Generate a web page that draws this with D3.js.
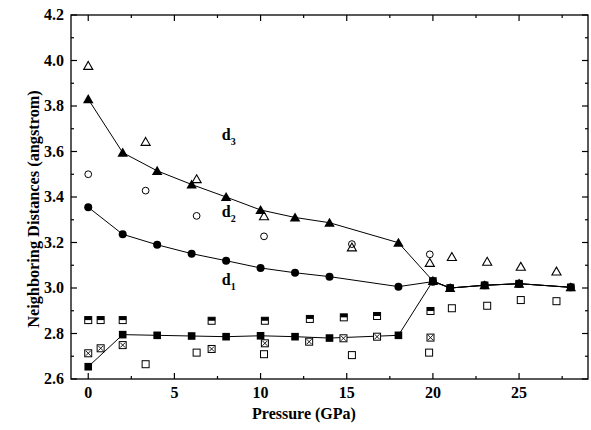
<!DOCTYPE html>
<html>
<head>
<meta charset="utf-8">
<script src="https://cdn.jsdelivr.net/npm/d3@7"></script>
<style>
  body { margin: 0; background: #fff; }
  svg text { font-family: "Liberation Serif", "Times New Roman", serif; font-weight: bold; }
</style>
</head>
<body>
<svg id="chart" width="591" height="430"></svg>
<script>
// connected series (pressure in GPa, distance in angstrom)
var linePressure = [0, 2, 4, 6, 8, 10, 12, 14, 18, 20, 21, 23, 25, 28];
var d3Values = [3.83, 3.595, 3.515, 3.455, 3.40, 3.343, 3.31, 3.287, 3.199, 3.031, 3.0, 3.012, 3.019, 3.003];
var d1Values = [3.355, 3.236, 3.19, 3.151, 3.12, 3.088, 3.067, 3.05, 3.006, 3.028, 3.0, 3.012, 3.019, 3.003];
var sqValues = [2.654, 2.795, 2.792, 2.789, 2.786, 2.79, 2.786, 2.78, 2.792, 3.031, 3.0, 3.012, 3.019, 3.003];

// open markers
var triPressure = [0, 3.33, 6.29, 10.2, 15.3, 19.82, 21.1, 23.15, 25.1, 27.17];
var triValues = [3.977, 3.643, 3.479, 3.316, 3.179, 3.111, 3.137, 3.116, 3.094, 3.073];
var circPressure = [0, 3.33, 6.29, 10.2, 15.3, 19.82];
var circValues = [3.5, 3.428, 3.317, 3.227, 3.193, 3.148];
var openSqPressure = [3.33, 6.29, 10.2, 15.3, 19.78, 21.1, 23.15, 25.1, 27.17];
var openSqValues = [2.665, 2.716, 2.709, 2.705, 2.716, 2.911, 2.922, 2.947, 2.942];
var halfSqPressure = [0, 0.72, 2.0, 7.16, 10.25, 12.86, 14.83, 16.76, 19.86];
var halfSqValues = [2.859, 2.859, 2.859, 2.856, 2.856, 2.864, 2.871, 2.877, 2.899];
var crossSqPressure = [0, 0.72, 2.0, 7.16, 10.25, 12.82, 14.81, 16.76, 19.86];
var crossSqValues = [2.713, 2.735, 2.749, 2.732, 2.757, 2.764, 2.779, 2.786, 2.782];

var xTicks = [0, 5, 10, 15, 20, 25];
var yTicks = [2.6, 2.8, 3.0, 3.2, 3.4, 3.6, 3.8, 4.0, 4.2];
var labels = [
  { name: "d", sub: "3", p: 7.75, v: 3.65 },
  { name: "d", sub: "2", p: 7.75, v: 3.312 },
  { name: "d", sub: "1", p: 7.75, v: 3.013 }
];

function init() {
  var margin = { left: 71, right: 588, top: 15, bottom: 379 };
  var x = d3.scaleLinear().domain([-1, 29]).range([margin.left, margin.right]);
  var y = d3.scaleLinear().domain([2.6, 4.2]).range([margin.bottom, margin.top]);

  var svg = d3.select("#chart");

  // frame
  svg.append("rect")
    .attr("x", margin.left).attr("y", margin.top)
    .attr("width", margin.right - margin.left).attr("height", margin.bottom - margin.top)
    .attr("fill", "none").attr("stroke", "#000").attr("stroke-width", 1.3);

  var xMinor = d3.range(0, 29, 2.5);
  var yMinor = d3.range(26, 43).map(function (d) { return d / 10; });

  function isMajorX(d) { return Math.abs(d % 5) < 1e-6; }
  function isMajorY(d) { return Math.round(d * 10) % 2 === 0; }

  var ticks = svg.append("g").attr("stroke", "#000").attr("stroke-width", 1.2);
  xMinor.forEach(function (d) {
    var len = isMajorX(d) ? 6 : 3;
    ticks.append("line").attr("x1", x(d)).attr("x2", x(d)).attr("y1", margin.bottom).attr("y2", margin.bottom - len);
    ticks.append("line").attr("x1", x(d)).attr("x2", x(d)).attr("y1", margin.top).attr("y2", margin.top + len);
  });
  yMinor.forEach(function (d) {
    var len = isMajorY(d) ? 6 : 3;
    ticks.append("line").attr("y1", y(d)).attr("y2", y(d)).attr("x1", margin.left).attr("x2", margin.left + len);
    ticks.append("line").attr("y1", y(d)).attr("y2", y(d)).attr("x1", margin.right).attr("x2", margin.right - len);
  });

  svg.append("g").selectAll("text").data(xTicks).enter().append("text")
    .attr("x", function (d) { return x(d); })
    .attr("y", 398)
    .attr("text-anchor", "middle")
    .attr("font-size", 16)
    .text(function (d) { return d; });

  svg.append("g").selectAll("text").data(yTicks).enter().append("text")
    .attr("x", 64)
    .attr("y", function (d) { return y(d) + 5; })
    .attr("text-anchor", "end")
    .attr("font-size", 16)
    .text(function (d) { return d.toFixed(1); });

  svg.append("text")
    .attr("x", 304).attr("y", 419)
    .attr("text-anchor", "middle")
    .attr("font-size", 16)
    .text("Pressure (GPa)");

  svg.append("text")
    .attr("transform", "translate(39,209) rotate(-90)")
    .attr("text-anchor", "middle")
    .attr("font-size", 16.3)
    .text("Neighboring Distances (angstrom)");

  // lines
  var line = d3.line()
    .x(function (d) { return x(d[0]); })
    .y(function (d) { return y(d[1]); });

  [d3Values, d1Values, sqValues].forEach(function (vals) {
    svg.append("path")
      .datum(d3.zip(linePressure, vals))
      .attr("d", line)
      .attr("fill", "none")
      .attr("stroke", "#000")
      .attr("stroke-width", 1);
  });

  var triFilled = d3.symbol().type(d3.symbolTriangle).size(48);
  var triOpen = d3.symbol().type(d3.symbolTriangle).size(36);

  function drawOpenSquare(g, p, v) {
    g.append("rect")
      .attr("x", x(p) - 3.5).attr("y", y(v) - 3.5)
      .attr("width", 7).attr("height", 7)
      .attr("fill", "#fff").attr("stroke", "#000").attr("stroke-width", 1);
  }

  // open circles
  var gc = svg.append("g");
  d3.zip(circPressure, circValues).forEach(function (d) {
    gc.append("circle").attr("cx", x(d[0])).attr("cy", y(d[1])).attr("r", 3.4)
      .attr("fill", "#fff").attr("stroke", "#000").attr("stroke-width", 1);
  });

  // open triangles
  var gt = svg.append("g");
  d3.zip(triPressure, triValues).forEach(function (d) {
    gt.append("path").attr("d", triOpen)
      .attr("transform", "translate(" + x(d[0]) + "," + (y(d[1]) + 1) + ")")
      .attr("fill", "none").attr("stroke", "#000").attr("stroke-width", 1.1);
  });

  // open squares
  var gs = svg.append("g");
  d3.zip(openSqPressure, openSqValues).forEach(function (d) { drawOpenSquare(gs, d[0], d[1]); });

  // half-filled squares
  var gh = svg.append("g");
  d3.zip(halfSqPressure, halfSqValues).forEach(function (d) {
    drawOpenSquare(gh, d[0], d[1]);
    gh.append("rect")
      .attr("x", x(d[0]) - 3.5).attr("y", y(d[1]) - 3.5)
      .attr("width", 7).attr("height", 3.5)
      .attr("fill", "#000");
  });

  // crossed squares
  var gx = svg.append("g");
  d3.zip(crossSqPressure, crossSqValues).forEach(function (d) {
    drawOpenSquare(gx, d[0], d[1]);
    var cx = x(d[0]), cy = y(d[1]);
    gx.append("path")
      .attr("d", "M" + (cx - 2.5) + "," + (cy - 2.5) + "L" + (cx + 2.5) + "," + (cy + 2.5) +
        "M" + (cx + 2.5) + "," + (cy - 2.5) + "L" + (cx - 2.5) + "," + (cy + 2.5))
      .attr("stroke", "#000").attr("stroke-width", 0.9);
  });

  // filled markers on the lines
  var gm = svg.append("g");
  linePressure.forEach(function (p, i) {
    gm.append("rect")
      .attr("x", x(p) - 3.8).attr("y", y(sqValues[i]) - 3.8)
      .attr("width", 7.6).attr("height", 7.6).attr("fill", "#000");
    gm.append("path").attr("d", triFilled)
      .attr("transform", "translate(" + x(p) + "," + (y(d3Values[i]) + 1) + ")")
      .attr("fill", "#000");
    gm.append("circle").attr("cx", x(p)).attr("cy", y(d1Values[i])).attr("r", 4)
      .attr("fill", "#000");
  });

  // d labels
  labels.forEach(function (l) {
    var t = svg.append("text")
      .attr("x", x(l.p)).attr("y", y(l.v))
      .attr("font-size", 16)
      .text(l.name);
    t.append("tspan").attr("dy", 5).attr("font-size", 10).text(l.sub);
  });
}

window.addEventListener("DOMContentLoaded", init);
</script>
</body>
</html>
